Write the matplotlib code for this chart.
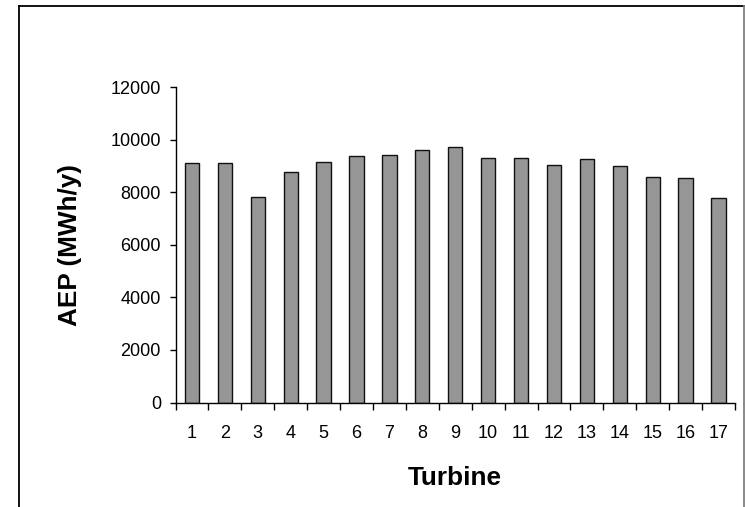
import matplotlib.pyplot as plt
from matplotlib.lines import Line2D
import numpy as np

plt.rcParams['font.family'] = ['Liberation Sans', 'DejaVu Sans']

# Data
turbines = [str(i) for i in range(1, 18)]
aep = [9100, 9100, 7800, 8750, 9150, 9360, 9400, 9600, 9720,
       9310, 9310, 9040, 9260, 8990, 8580, 8530, 7760]
y_ticks = [0, 2000, 4000, 6000, 8000, 10000, 12000]

W, H = 745, 507
fig = plt.figure(figsize=(W / 100, H / 100), dpi=100)

# axes placement in pixels
left, right, top, bottom = 175.5, 735, 87, 402.5
ax = fig.add_axes([left / W, 1 - bottom / H, (right - left) / W, (bottom - top) / H])

x = np.arange(len(turbines))
ax.bar(x, aep, width=0.435, color='#969696', edgecolor='#111111', linewidth=1.0)

ax.set_xlim(-0.5, len(turbines) - 0.5)
ax.set_ylim(0, 12000)
ax.set_yticks(y_ticks)
ax.set_yticklabels([str(v) for v in y_ticks], fontsize=13)

# category labels centred, tick marks between categories
ax.set_xticks(x)
ax.set_xticklabels(turbines, fontsize=13)
ax.tick_params(axis='x', which='major', length=0, pad=16)
ax.set_xticks(np.arange(-0.5, len(turbines)), minor=True)
ax.tick_params(axis='x', which='minor', length=5, direction='out', width=1)
ax.tick_params(axis='y', length=4.5, direction='out', width=1, pad=6)

for s in ['top', 'right']:
    ax.spines[s].set_visible(False)
for s in ['left', 'bottom']:
    ax.spines[s].set_linewidth(1.0)

ax.set_xlabel('Turbine', fontsize=18.8, fontweight='bold')
ax.set_ylabel('AEP (MWh/y)', fontsize=18.8, fontweight='bold')
ax.xaxis.set_label_coords(0.5, (402 - 465) / 315)
ax.yaxis.set_label_coords((82 - 175.5) / 560, 0.5)

# chart area border (left/top black, right grey)
def px(xp, yp):
    return xp / W, 1 - yp / H

for (x0, y0), (x1, y1), c in [((18.5, 5.5), (18.5, 520), 'black'),
                               ((18.5, 5.5), (744, 5.5), 'black'),
                               ((743.5, 5.5), (743.5, 520), '#808080')]:
    xa, ya = px(x0, y0)
    xb, yb = px(x1, y1)
    fig.add_artist(Line2D([xa, xb], [ya, yb], transform=fig.transFigure,
                          color=c, linewidth=1.3))

fig.savefig('out.png', dpi=100)
